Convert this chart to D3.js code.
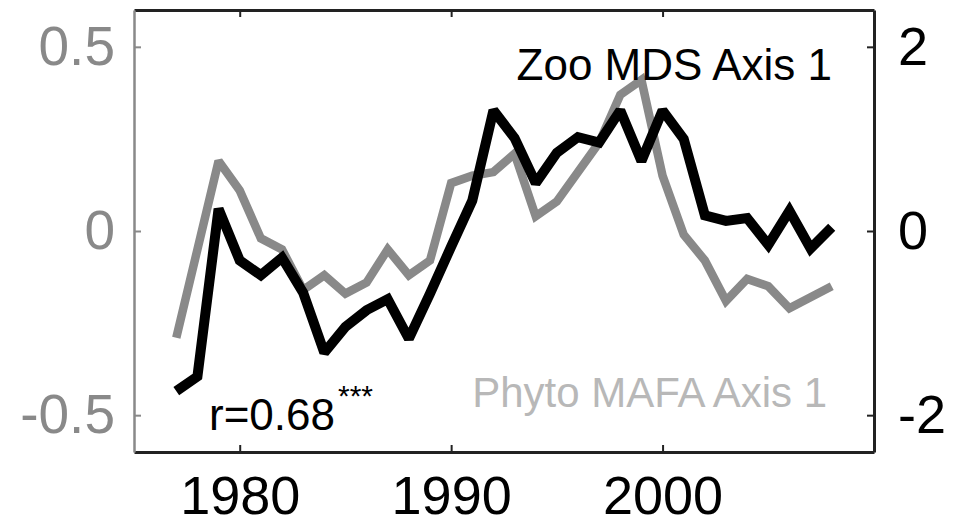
<!DOCTYPE html>
<html>
<head>
<meta charset="utf-8">
<script src="https://cdn.jsdelivr.net/npm/d3@7"></script>
<style>
  body { margin: 0; background: #fff; }
  svg { display: block; font-family: "Liberation Sans", Arial, sans-serif; }
</style>
</head>
<body>
<svg id="chart" width="956" height="526"></svg>
<script>
const width = 956;
const height = 526;

// data
const years = d3.range(1977, 2009);
const zooMds = [-1.74, -1.58, 0.24, -0.32, -0.48, -0.29, -0.67, -1.32, -1.04, -0.86,
  -0.74, -1.17, -0.68, -0.17, 0.33, 1.31, 1.01, 0.52, 0.85, 1.02,
  0.96, 1.31, 0.76, 1.31, 1.0, 0.17, 0.11, 0.14, -0.15, 0.22, -0.19, 0.04];
const phytoMafa = [-0.29, -0.05, 0.19, 0.11, -0.02, -0.05, -0.16, -0.12, -0.17, -0.14,
  -0.05, -0.12, -0.08, 0.13, 0.15, 0.16, 0.21, 0.04, 0.08, 0.16,
  0.24, 0.37, 0.41, 0.15, -0.01, -0.08, -0.19, -0.13, -0.15, -0.21, -0.18, -0.15];
const xTicks = [1980, 1990, 2000];
const leftTicks = [-0.5, 0, 0.5];
const rightTicks = [-2, 0, 2];

const margin = { top: 10, right: 82, bottom: 74, left: 134 };

const svg = d3.select("#chart");

const scale = {
  x: d3.scaleLinear().domain([1975, 2010]).range([margin.left, width - margin.right]),
  yLeft: d3.scaleLinear().domain([-0.6, 0.6]).range([height - margin.bottom, margin.top]),
  yRight: d3.scaleLinear().domain([-2.4, 2.4]).range([height - margin.bottom, margin.top])
};

const grey = "#898989";
const dark = "#222";

// plain hyphen for negatives, like the original figure
const plain = d => String(d);

/* LINES */
const phytoLine = d3.line()
  .x((d, i) => scale.x(years[i]))
  .y(d => scale.yLeft(d));

const zooLine = d3.line()
  .x((d, i) => scale.x(years[i]))
  .y(d => scale.yRight(d));

svg.append("path")
  .datum(phytoMafa)
  .attr("d", phytoLine)
  .attr("fill", "none")
  .attr("stroke", grey)
  .attr("stroke-width", 8.5)
  .attr("stroke-linejoin", "miter")
  .attr("stroke-miterlimit", 2);

svg.append("path")
  .datum(zooMds)
  .attr("d", zooLine)
  .attr("fill", "none")
  .attr("stroke", "#000")
  .attr("stroke-width", 10)
  .attr("stroke-linejoin", "miter")
  .attr("stroke-miterlimit", 2);

/* AXES */
const xBottom = svg.append("g")
  .attr("transform", translate(0, height - margin.bottom))
  .call(d3.axisBottom(scale.x).tickValues(xTicks).tickFormat(plain)
    .tickSize(-7).tickSizeOuter(0).tickPadding(24));

const xTop = svg.append("g")
  .attr("transform", translate(0, margin.top))
  .call(d3.axisTop(scale.x).tickValues(xTicks).tickFormat("")
    .tickSize(-7).tickSizeOuter(0));

const yRightAxis = svg.append("g")
  .attr("transform", translate(width - margin.right, 0))
  .call(d3.axisRight(scale.yRight).tickValues(rightTicks).tickFormat(plain)
    .tickSize(-7).tickSizeOuter(0).tickPadding(24));

const yLeftAxis = svg.append("g")
  .attr("transform", translate(margin.left, 0))
  .call(d3.axisLeft(scale.yLeft).tickValues(leftTicks).tickFormat(plain)
    .tickSize(-7).tickSizeOuter(0).tickPadding(19));

[xBottom, xTop, yRightAxis].forEach(g => {
  g.select(".domain").attr("stroke", dark).attr("stroke-width", 3);
  g.selectAll(".tick line").attr("stroke", dark).attr("stroke-width", 2);
  g.selectAll(".tick text").attr("fill", "#000").style("font-size", "54px");
});

yLeftAxis.select(".domain").attr("stroke", grey).attr("stroke-width", 2.5);
yLeftAxis.selectAll(".tick text").attr("fill", grey).style("font-size", "55px");
yLeftAxis.selectAll(".tick line").attr("stroke", grey).attr("stroke-width", 2);

svg.selectAll(".tick text").style("font-family", "\"Liberation Sans\", Arial, sans-serif");
xBottom.selectAll(".tick text").style("font-size", "54px").attr("dy", "0.71em");

/* LABELS */
svg.append("text")
  .attr("x", 832)
  .attr("y", 80)
  .attr("text-anchor", "end")
  .style("font-size", "44px")
  .attr("fill", "#000")
  .text("Zoo MDS Axis 1");

svg.append("text")
  .attr("x", 827)
  .attr("y", 407)
  .attr("text-anchor", "end")
  .style("font-size", "42px")
  .attr("fill", "#b8b8b8")
  .text("Phyto MAFA Axis 1");

const rText = svg.append("text")
  .attr("x", 209)
  .attr("y", 430)
  .style("font-size", "44px")
  .attr("fill", "#000");

rText.append("tspan").text("r=0.68");
rText.append("tspan")
  .attr("dx", 3)
  .attr("dy", -24)
  .style("font-size", "30px")
  .text("***");

function translate(x, y) {
  return "translate(" + String(x) + "," + String(y) + ")";
}
</script>
</body>
</html>
